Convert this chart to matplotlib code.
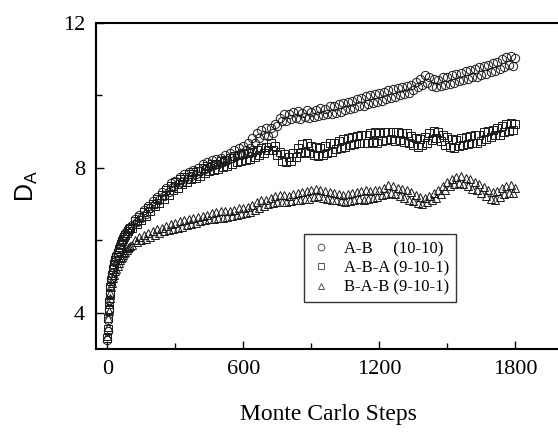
import matplotlib
matplotlib.use('Agg')
import matplotlib.pyplot as plt

# Monte Carlo steps: dense at the very start, then every 10 steps
steps = [0, 2, 4, 6, 8, 10, 13, 16, 20, 25, 30, 35, 40, 45, 50, 55, 60, 65, 70, 75, 80, 85, 90, 95, 100] \
        + list(range(110, 1801, 10))

d_ab = [3.25, 3.5, 3.8, 4.1, 4.35, 4.55, 4.75, 4.95, 5.1, 5.25, 5.4, 5.5, 5.6, 5.7, 5.8, 5.88, 5.95, 6.02, 6.1,
        6.15, 6.2, 6.25, 6.3, 6.34, 6.38,
        6.42, 6.58, 6.5, 6.7, 6.62, 6.85, 6.72, 6.95, 6.88, 7.08,
        7.0, 7.2, 7.1, 7.32, 7.22, 7.45, 7.32, 7.58, 7.48, 7.65,
        7.55, 7.75, 7.62, 7.82, 7.68, 7.88, 7.78, 7.95, 7.82, 8.0,
        7.9, 8.1, 7.98, 8.15, 8.02, 8.22, 8.08, 8.25, 8.12, 8.28,
        8.15, 8.35, 8.22, 8.42, 8.28, 8.5, 8.35, 8.55, 8.42, 8.6,
        8.5, 8.7, 8.55, 8.82, 8.7, 8.95, 8.82, 9.05, 8.9, 9.1,
        8.88, 9.1, 8.95, 9.2, 9.15, 9.38, 9.3, 9.5, 9.3, 9.48,
        9.35, 9.55, 9.38, 9.58, 9.35, 9.52, 9.4, 9.6, 9.38, 9.55,
        9.4, 9.6, 9.42, 9.65, 9.45, 9.62, 9.48, 9.7, 9.5, 9.72,
        9.52, 9.75, 9.55, 9.78, 9.6, 9.82, 9.62, 9.85, 9.65, 9.9,
        9.7, 9.92, 9.72, 9.98, 9.75, 10.0, 9.8, 10.05, 9.82, 10.08,
        9.85, 10.1, 9.9, 10.15, 9.92, 10.18, 9.95, 10.2, 10.0, 10.22,
        10.05, 10.25, 10.08, 10.3, 10.15, 10.38, 10.22, 10.45, 10.3, 10.55,
        10.35, 10.5, 10.25, 10.45, 10.22, 10.42, 10.25, 10.5, 10.3, 10.52,
        10.32, 10.55, 10.35, 10.6, 10.4, 10.62, 10.42, 10.68, 10.45, 10.7,
        10.5, 10.72, 10.52, 10.78, 10.55, 10.8, 10.6, 10.85, 10.65, 10.9,
        10.68, 10.92, 10.72, 11.0, 10.78, 11.05, 10.85, 11.08, 10.8, 11.02]

d_aba = [3.3, 3.55, 3.85, 4.1, 4.3, 4.5, 4.7, 4.88, 5.05, 5.2, 5.35, 5.45, 5.55, 5.65, 5.75, 5.82, 5.9, 5.98, 6.05,
         6.1, 6.15, 6.2, 6.25, 6.3, 6.33,
         6.35, 6.52, 6.45, 6.65, 6.55, 6.78, 6.68, 6.9, 6.8, 7.0,
         6.95, 7.15, 7.02, 7.25, 7.15, 7.38, 7.25, 7.5, 7.4, 7.6,
         7.45, 7.68, 7.55, 7.75, 7.6, 7.82, 7.68, 7.88, 7.72, 7.92,
         7.78, 8.0, 7.85, 8.05, 7.9, 8.1, 7.95, 8.12, 7.98, 8.18,
         8.02, 8.22, 8.05, 8.28, 8.1, 8.32, 8.15, 8.35, 8.18, 8.38,
         8.22, 8.42, 8.25, 8.45, 8.3, 8.5, 8.35, 8.55, 8.4, 8.58,
         8.5, 8.68, 8.48, 8.6, 8.35, 8.45, 8.2, 8.38, 8.15, 8.3,
         8.18, 8.4, 8.3, 8.55, 8.42, 8.65, 8.45, 8.68, 8.4, 8.6,
         8.35, 8.58, 8.32, 8.55, 8.35, 8.6, 8.42, 8.68, 8.45, 8.7,
         8.52, 8.75, 8.55, 8.8, 8.58, 8.82, 8.62, 8.85, 8.65, 8.88,
         8.68, 8.9, 8.7, 8.92, 8.68, 8.95, 8.72, 8.98, 8.7, 8.95,
         8.75, 8.98, 8.78, 9.0, 8.8, 8.98, 8.75, 9.0, 8.78, 8.95,
         8.72, 8.95, 8.7, 8.88, 8.62, 8.82, 8.58, 8.8, 8.62, 8.85,
         8.7, 8.95, 8.78, 9.02, 8.82, 9.0, 8.75, 8.92, 8.62, 8.85,
         8.58, 8.8, 8.55, 8.78, 8.6, 8.82, 8.62, 8.85, 8.65, 8.88,
         8.68, 8.9, 8.7, 8.92, 8.75, 8.98, 8.8, 9.02, 8.85, 9.05,
         8.9, 9.1, 8.92, 9.15, 8.98, 9.2, 9.02, 9.25, 9.05, 9.22]

d_bab = [3.35, 3.6, 3.85, 4.05, 4.25, 4.4, 4.55, 4.7, 4.82, 4.95, 5.05, 5.15, 5.22, 5.3, 5.38, 5.45, 5.5, 5.55, 5.6,
         5.65, 5.68, 5.72, 5.78, 5.82, 5.85,
         5.88, 6.0, 5.95, 6.08, 6.0, 6.15, 6.05, 6.2, 6.1, 6.25,
         6.15, 6.3, 6.2, 6.35, 6.25, 6.4, 6.28, 6.45, 6.32, 6.48,
         6.35, 6.52, 6.38, 6.55, 6.42, 6.6, 6.45, 6.62, 6.48, 6.65,
         6.52, 6.68, 6.55, 6.7, 6.58, 6.75, 6.6, 6.78, 6.62, 6.8,
         6.62, 6.8, 6.65, 6.82, 6.68, 6.85, 6.7, 6.88, 6.72, 6.9,
         6.75, 6.92, 6.78, 6.98, 6.85, 7.05, 6.9, 7.1, 6.95, 7.12,
         7.0, 7.18, 7.02, 7.22, 7.05, 7.25, 7.05, 7.25, 7.05, 7.22,
         7.08, 7.28, 7.1, 7.3, 7.12, 7.32, 7.15, 7.35, 7.15, 7.38,
         7.2, 7.42, 7.22, 7.4, 7.18, 7.35, 7.15, 7.32, 7.12, 7.3,
         7.1, 7.28, 7.08, 7.25, 7.05, 7.28, 7.08, 7.3, 7.12, 7.32,
         7.15, 7.35, 7.12, 7.38, 7.15, 7.35, 7.18, 7.4, 7.2, 7.38,
         7.25, 7.45, 7.28, 7.52, 7.3, 7.5, 7.28, 7.45, 7.22, 7.42,
         7.18, 7.38, 7.12, 7.32, 7.08, 7.25, 7.02, 7.2, 7.0, 7.18,
         7.05, 7.22, 7.1, 7.3, 7.18, 7.4, 7.28, 7.5, 7.38, 7.6,
         7.5, 7.7, 7.55, 7.75, 7.58, 7.78, 7.55, 7.72, 7.5, 7.68,
         7.42, 7.62, 7.38, 7.55, 7.3, 7.48, 7.22, 7.4, 7.15, 7.32,
         7.12, 7.35, 7.2, 7.45, 7.28, 7.5, 7.3, 7.52, 7.3, 7.45]

labels = ['A-B     (10-10)', 'A-B-A (9-10-1)', 'B-A-B (9-10-1)']
markers = ['o', 's', '^']

plt.rcParams['font.family'] = 'Liberation Serif'
plt.rcParams['mathtext.fontset'] = 'custom'
plt.rcParams['mathtext.rm'] = 'Liberation Sans'
plt.rcParams['mathtext.it'] = 'Liberation Sans'

fig = plt.figure(figsize=(5.58, 4.33), dpi=100)
ax = fig.add_axes([0.172, 0.194, 0.833, 0.753])

for ys, m, lab in zip([d_ab, d_aba, d_bab], markers, labels):
    ax.plot(steps, ys, linestyle='none', marker=m, markersize=6, markerfacecolor='none',
            markeredgecolor='#1a1a1a', markeredgewidth=0.7, label=lab)

ax.set_xlim(-50, 2000)
ax.set_ylim(3, 12)
ax.set_xticks([0, 600, 1200, 1800])
ax.set_xticks([300, 900, 1500], minor=True)
ax.set_yticks([4, 8, 12])
ax.set_yticks([6, 10], minor=True)
ax.tick_params(which='both', direction='in', labelsize=16, width=1)
ax.tick_params(which='major', length=6, pad=8)
ax.tick_params(which='minor', length=4)
ax.spines['right'].set_visible(False)
for s in ['left', 'bottom', 'top']:
    ax.spines[s].set_linewidth(1.5)

ax.set_xlabel('Monte Carlo Steps', fontsize=17, labelpad=18)
ax.set_ylabel(r'$\mathrm{D_A}$', fontsize=18, labelpad=16)

leg = ax.legend(loc='upper left', bbox_to_anchor=(0.448, 0.352), borderaxespad=0, fontsize=12,
                frameon=True, fancybox=False, edgecolor='black', handlelength=1.2, handletextpad=0.8,
                borderpad=0.4, labelspacing=0.2, markerscale=0.8)
leg.get_frame().set_linewidth(1.0)
for h in leg.legend_handles:
    h.set_markeredgecolor('#555555')

fig.savefig('out.png', dpi=100)
